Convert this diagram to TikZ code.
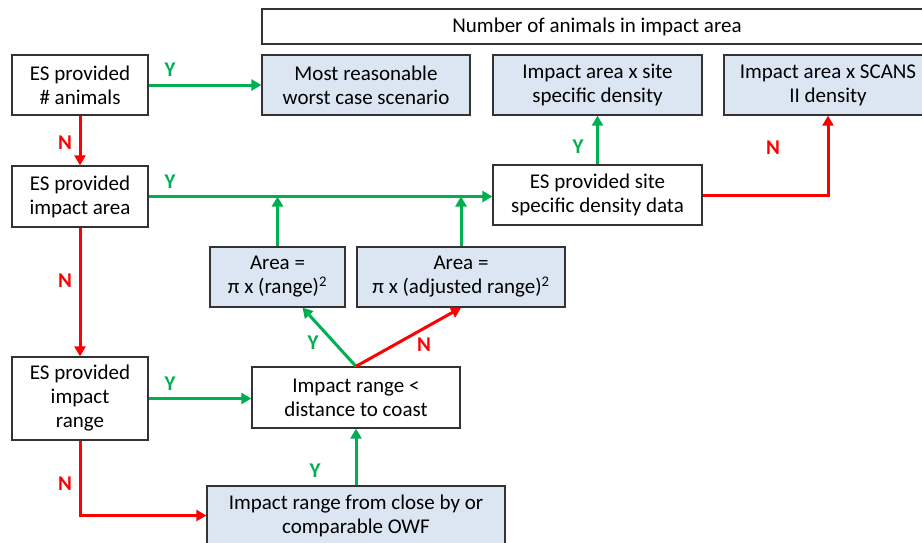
\documentclass[tikz,border=0pt]{standalone}
\usepackage{fontspec}
\setmainfont{Carlito}
\usepackage{tikz}
\usetikzlibrary{positioning, arrows.meta, calc}

\definecolor{boxblue}{HTML}{DCE6F2}
\definecolor{yesgreen}{HTML}{00B050}
\definecolor{nored}{HTML}{FF0000}

\begin{document}
\begin{tikzpicture}[x=1pt, y=-1pt,
    box/.style={draw=black!80, line width=1.3pt, align=center, inner sep=2pt,
                font=\fontsize{21}{24}\selectfont, minimum height=60pt},
    result/.style={box, fill=boxblue},
    yes/.style={draw=yesgreen, line width=3pt, -{Triangle[length=10pt, width=11pt]}},
    no/.style={draw=nored, line width=3pt, -{Triangle[length=10pt, width=11pt]}},
    ylab/.style={text=yesgreen, font=\fontsize{21}{21}\selectfont\bfseries},
    nlab/.style={text=nored, font=\fontsize{21}{21}\selectfont\bfseries}]
    \useasboundingbox (0,0) rectangle (922,542);
    \clip (0,0) rectangle (922,542);

    % boxes
    \node[box, minimum width=670pt, minimum height=35pt] (hdr) at (597,26.5) {Number of animals in impact area};
    \node[box, minimum width=136pt] (animals) at (80,85) {ES provided\\\# animals};
    \node[result, minimum width=208pt] (worst) at (366,85) {Most reasonable\\worst case scenario};
    \node[result, minimum width=209pt] (sitedens) at (597.5,85) {Impact area x site\\specific density};
    \node[result, minimum width=208pt] (scans) at (828,85) {Impact area x SCANS\\II density};
    \node[box, minimum width=136pt, minimum height=61pt] (area) at (80,196.5) {ES provided\\impact area};
    \node[box, minimum width=209pt] (sitedata) at (597.5,195) {ES provided site\\specific density data};
    \node[result, minimum width=135pt] (arear) at (277.5,277) {Area =\\π x (range)\textsuperscript{2}};
    \node[result, minimum width=208pt] (areaadj) at (461,277) {Area =\\π x (adjusted range)\textsuperscript{2}};
    \node[box, minimum width=136pt, minimum height=83pt] (range) at (80,398.5) {ES provided\\impact\\range};
    \node[box, minimum width=208pt, minimum height=61pt] (coast) at (356,397.5) {Impact range <\\distance to coast};
    \node[result, minimum width=298pt, minimum height=59pt] (owf) at (356,515.5) {Impact range from close by or\\comparable OWF};

    % junctions
    \coordinate (j1) at (arear.north |- area.east);
    \coordinate (j2) at (areaadj.north |- area.east);

    % connectors
    \draw[yes] (animals) -- (worst);
    \draw[no] (animals) -- (area);
    \draw[yes] (area.east) -- (area.east -| sitedata.west);
    \draw[yes] (arear.north) -- (j1);
    \draw[yes] (areaadj.north) -- (j2);
    \draw[yes] (sitedata) -- (sitedens);
    \draw[no] (sitedata.east) -| (scans.south);
    \draw[no] (area) -- (range);
    \draw[yes] (range.east) -- (range.east -| coast.west);
    \draw[yes] (coast.north) -- ([xshift=25pt]arear.south);
    \draw[no] (coast.north) -- (areaadj.south);
    \draw[no] (range.south) |- (owf.west);
    \draw[yes] (owf) -- (coast);

    % labels
    \node[ylab] (y1) at (170,70) {Y};
    \node[nlab] (n1) at (65,143) {N};
    \node[ylab] (y2) at (170,182) {Y};
    \node[ylab] (y3) at (578,147) {Y};
    \node[nlab] (n2) at (773,148) {N};
    \node[nlab] (n3) at (65,281) {N};
    \node[ylab] (y4) at (313,343) {Y};
    \node[nlab] (n4) at (424,345) {N};
    \node[ylab] (y5) at (170,384) {Y};
    \node[nlab] (n5) at (65,484) {N};
    \node[ylab] (y6) at (315,471) {Y};
\end{tikzpicture}
\end{document}
